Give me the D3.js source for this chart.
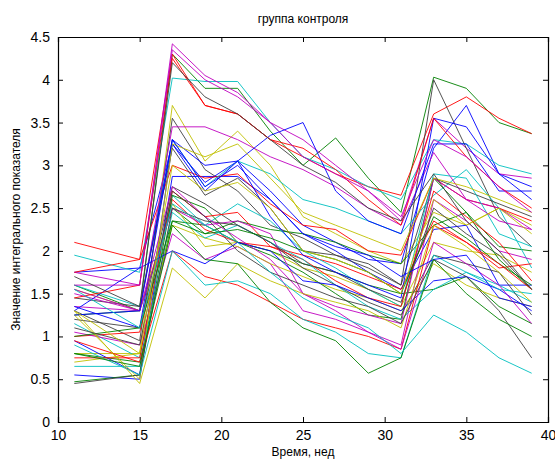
<!DOCTYPE html>
<html>
<head>
<meta charset="utf-8">
<script src="https://cdnjs.cloudflare.com/ajax/libs/d3/7.8.5/d3.min.js"></script>
<style>
  body { margin: 0; background: #fff; }
  svg { font-family: "Liberation Sans", Arial, sans-serif; }
  .axis path, .axis line { stroke: #000; }
  .axis text { fill: #000; font-size: 14px; }
</style>
</head>
<body>
<div id="viz"></div>
<script>
// weeks of measurement
var weeks = [11, 15, 17, 19, 21, 23, 25, 27, 29, 31, 33, 35, 37, 39];

// one row per subject
var subjects = [
  [1.75,1.8,3.25,2.8,3.05,2.7,2.3,2.1,1.9,1.85,3.2,3.7,2.9,2.75],
  [1.6,1.3,4.3,3.9,3.9,3.4,3.0,3.32,2.85,2.45,4.03,3.9,3.5,3.37],
  [2.1,1.9,4.3,3.7,3.6,3.3,3.1,2.9,2.75,2.65,3.6,3.8,3.55,3.37],
  [1.95,1.75,4.02,3.98,3.98,3.5,3.1,2.95,2.75,2.6,3.3,3.25,3.0,2.9],
  [1.75,1.6,4.42,4.05,3.85,3.5,3.3,3.0,2.7,2.35,3.55,3.2,2.9,2.85],
  [0.8,0.8,3.7,3.05,3.4,3.0,2.4,2.2,2.0,1.85,2.45,2.3,2.5,2.3],
  [1.3,0.95,3.55,2.95,2.7,2.3,2.15,1.95,1.85,1.6,4.0,3.2,2.4,2.05],
  [0.55,0.5,2.87,2.87,2.87,2.6,2.2,2.0,1.75,1.55,2.25,2.3,1.6,1.6],
  [1.25,1.3,2.5,2.2,2.35,2.25,2.2,2.1,1.95,1.85,2.3,2.45,2.05,2.0],
  [1.75,1.9,3.0,2.85,2.9,2.55,2.3,2.25,2.0,1.95,2.85,2.6,2.5,2.35],
  [1.6,1.35,3.3,2.75,3.05,2.9,2.6,2.5,2.35,2.2,2.65,2.95,2.5,1.8],
  [1.35,1.3,3.45,3.45,3.3,3.1,2.95,2.75,2.5,2.3,3.15,2.6,2.5,2.25],
  [1.55,1.3,2.55,2.05,2.1,2.0,1.8,1.7,1.55,1.35,2.1,2.0,1.95,1.75],
  [1.45,1.35,3.2,2.65,2.85,2.5,2.0,1.95,1.8,1.6,2.85,2.7,2.55,2.4],
  [1.35,1.1,3.3,3.0,3.05,3.35,3.5,2.7,2.35,2.2,3.25,3.25,2.7,2.7],
  [0.8,0.7,2.35,2.3,2.1,2.0,1.85,1.75,1.6,1.5,1.55,1.7,1.35,1.15],
  [1.0,1.05,2.6,2.25,2.1,2.05,1.95,1.85,1.7,1.55,2.35,2.1,1.8,1.85],
  [1.15,0.75,2.65,2.3,2.55,2.35,2.0,1.8,1.55,1.35,2.9,2.85,2.2,2.05],
  [1.05,0.9,2.2,1.9,2.05,1.85,1.3,1.2,1.05,0.9,2.6,2.35,2.0,1.9],
  [0.7,0.8,2.3,2.15,2.05,1.85,1.7,1.55,1.45,1.3,1.85,1.6,1.45,1.35],
  [1.2,1.1,2.75,2.55,2.3,2.1,1.85,1.75,1.55,1.4,2.5,2.2,1.95,1.55],
  [0.95,0.55,3.25,2.7,3.05,2.4,1.95,1.75,1.6,1.45,3.55,3.45,2.9,2.6],
  [0.47,0.55,2.65,2.5,2.1,1.95,1.75,1.5,1.25,1.2,2.85,2.45,1.9,1.55],
  [0.75,0.75,2.7,2.4,2.45,2.05,1.9,1.65,1.45,1.35,2.7,2.4,2.1,1.65],
  [0.65,0.65,2.45,2.15,2.3,2.1,1.9,1.6,1.35,1.2,1.55,1.75,1.6,1.4],
  [1.5,1.3,2.5,2.3,2.35,2.2,1.5,1.35,1.25,1.15,2.85,2.6,2.35,2.25],
  [1.25,0.5,3.25,3.1,3.25,2.85,2.45,2.3,2.15,2.0,2.85,2.75,2.6,2.45],
  [0.45,0.55,2.5,2.35,2.3,2.1,1.8,1.6,1.4,1.25,1.95,1.85,1.75,1.25],
  [1.3,1.8,2.0,1.85,2.1,2.0,1.65,1.6,1.45,1.3,1.65,1.7,1.55,1.3],
  [1.0,1.1,2.35,2.2,2.25,2.15,2.0,1.9,1.75,1.5,2.4,2.15,1.85,1.6],
  [0.95,0.7,2.0,1.7,1.6,1.4,1.2,1.1,1.0,0.85,2.3,2.1,1.85,1.55],
  [0.9,0.55,2.0,1.6,1.65,1.5,1.2,1.05,0.8,0.75,1.95,1.75,1.55,1.5],
  [1.55,1.3,2.75,2.4,2.15,1.9,1.5,1.3,1.05,0.85,2.1,1.85,1.6,1.15],
  [1.3,0.45,1.8,1.45,1.85,1.65,1.5,1.4,1.3,1.1,2.3,2.05,1.75,1.4],
  [1.1,0.9,2.7,2.4,2.0,1.75,1.6,1.45,1.35,1.15,1.9,1.7,1.3,0.75],
  [1.25,1.3,3.3,2.75,3.0,2.6,2.2,2.05,1.95,1.7,1.9,1.95,1.45,1.35],
  [0.8,0.65,2.3,1.9,1.85,1.4,1.1,0.95,0.57,0.75,1.9,1.5,1.2,1.0],
  [1.45,1.6,4.25,3.7,3.6,3.3,3.2,2.95,2.6,2.3,3.55,3.1,2.75,2.5],
  [1.55,1.1,2.55,2.3,2.1,1.75,1.45,1.25,1.1,0.8,1.25,1.05,0.75,0.57],
  [1.6,1.6,4.35,4.0,3.8,3.5,3.1,2.9,2.7,2.4,3.3,3.1,2.75,2.45],
  [1.3,0.8,3.0,2.7,2.8,2.5,2.0,1.9,1.75,1.5,2.6,2.3,2.5,2.2],
  [1.7,1.35,4.2,3.8,3.6,3.3,3.0,2.8,2.5,2.35,2.9,2.35,2.0,1.55]
];

var xTicks = [10, 15, 20, 25, 30, 35, 40];
var yTicks = [0, 0.5, 1, 1.5, 2, 2.5, 3, 3.5, 4, 4.5];

// matlab default line colour order
var colorOrder = ["#0000ff", "#008000", "#ff0000", "#00bfbf", "#bf00bf", "#bfbf00", "#404040"];

var width = 555, height = 460;
var margin = {top: 37, right: 7, bottom: 38, left: 58};
var w = width - margin.left - margin.right;
var h = height - margin.top - margin.bottom;

var x = d3.scaleLinear().domain([10, 40]).range([0, w]);
var y = d3.scaleLinear().domain([0, 4.5]).range([h, 0]);

var svg = d3.select("#viz").append("svg")
  .attr("width", width)
  .attr("height", height);

var g = svg.append("g")
  .attr("transform", "translate(" + margin.left + "," + margin.top + ")");

var line = d3.line()
  .x((d, i) => x(weeks[i]))
  .y(d => y(d));

g.selectAll("path.series")
  .data(subjects)
  .enter().append("path")
  .attr("class", "series")
  .attr("fill", "none")
  .attr("stroke", (d, i) => colorOrder[i % colorOrder.length])
  .attr("stroke-width", 0.9)
  .attr("d", line);

// box with inward ticks on all sides
g.append("g").attr("class", "axis")
  .attr("transform", "translate(0," + h + ")")
  .call(d3.axisBottom(x).tickValues(xTicks).tickSize(-5).tickPadding(8).tickFormat(d3.format("d")));
g.append("g").attr("class", "axis")
  .call(d3.axisTop(x).tickValues(xTicks).tickSize(-5).tickFormat(""));
g.append("g").attr("class", "axis")
  .call(d3.axisLeft(y).tickValues(yTicks).tickSize(-5).tickPadding(8).tickFormat(d => d));
g.append("g").attr("class", "axis")
  .attr("transform", "translate(" + w + ",0)")
  .call(d3.axisRight(y).tickValues(yTicks).tickSize(-5).tickFormat(""));

g.selectAll(".axis path").attr("stroke-width", 1.2);

svg.append("text")
  .attr("x", margin.left + w / 2)
  .attr("y", 23)
  .attr("text-anchor", "middle")
  .style("font-size", "12px")
  .text("группа контроля");

svg.append("text")
  .attr("x", margin.left + w / 2)
  .attr("y", 456)
  .attr("text-anchor", "middle")
  .style("font-size", "12px")
  .text("Время, нед");

svg.append("text")
  .attr("transform", "translate(20," + (margin.top + h / 2) + ") rotate(-90)")
  .attr("text-anchor", "middle")
  .style("font-size", "12px")
  .text("Значение интегрального показателя");
</script>
</body>
</html>
